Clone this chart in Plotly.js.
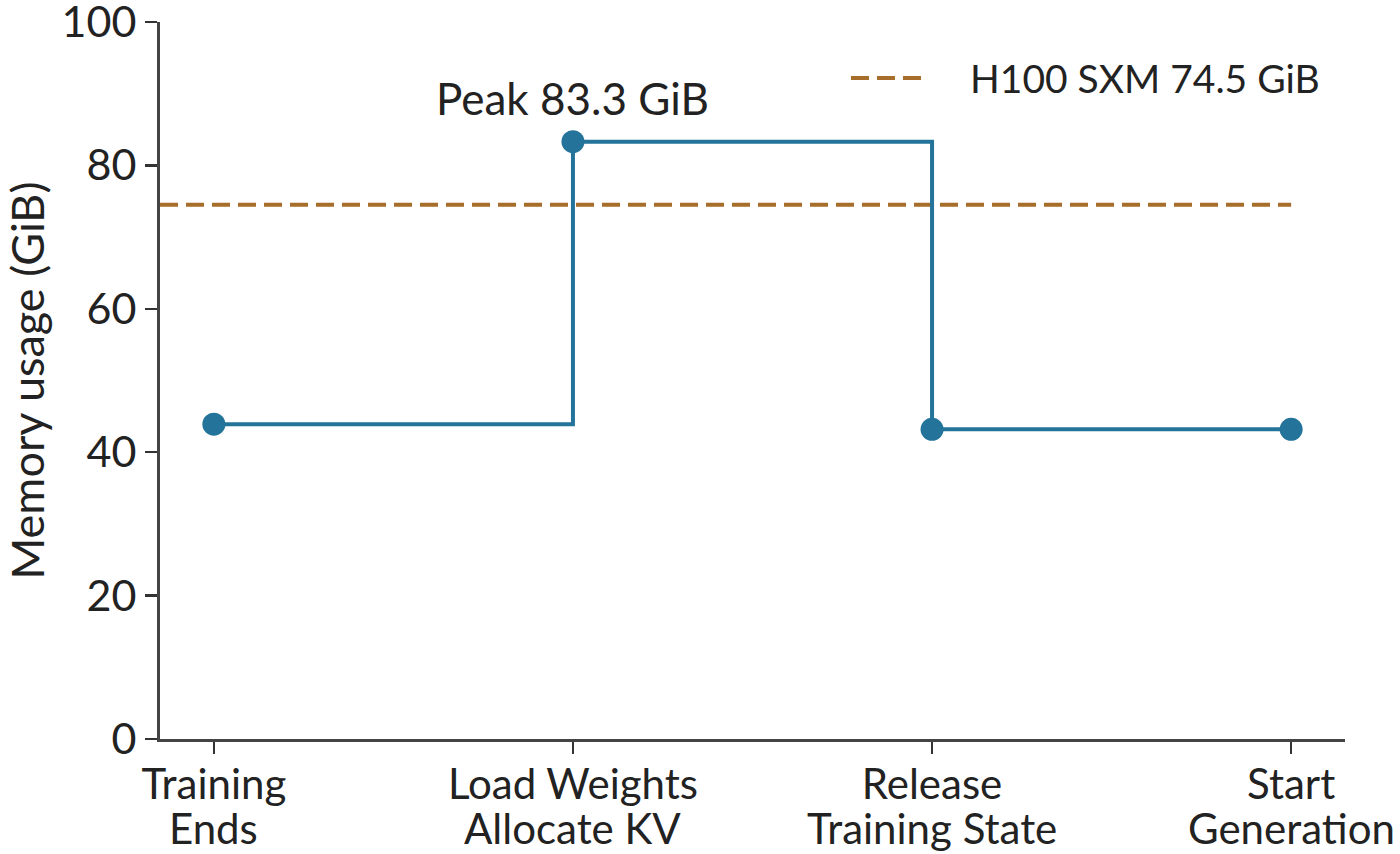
<!DOCTYPE html>
<html>
<head>
<meta charset="utf-8">
<script src="https://cdn.plot.ly/plotly-3.0.1.min.js"></script>
<style>
  html, body { margin: 0; padding: 0; background: #fff; }
  #chart { width: 1400px; height: 854px; }
</style>
</head>
<body>
<div id="chart"></div>
<script>
// stages of the training -> generation handoff (label split over two lines)
const stageLine1 = ['Training', 'Load Weights', 'Release', 'Start'];
const stageLine2 = ['Ends', 'Allocate KV', 'Training State', 'Generation'];
const memoryGiB = [43.9, 83.3, 43.2, 43.2];
const h100Limit = 74.5;
const limitName = 'H100 SXM 74.5 GiB';
const peakLabel = 'Peak 83.3 GiB';
const yTicks = [0, 20, 40, 60, 80, 100];

const FONT = 'Lato, "Noto Sans", sans-serif';
const TXT = '#222';
const lineCol = '#24739a';
const limitCol = '#a66e2a';
const xRange = [-0.15, 3.15];
const stageIdx = stageLine1.map((_, i) => i);

const stepTrace = {
    x: stageIdx, y: memoryGiB,
    type: 'scatter', mode: 'lines+markers',
    line: { shape: 'hv', color: lineCol, width: 4 },
    marker: { size: 23, color: lineCol },
    showlegend: false, hoverinfo: 'y'
};

// threshold runs from the left spine to the last stage
const limitTrace = {
    x: [xRange[0], stageIdx[stageIdx.length - 1]], y: [h100Limit, h100Limit],
    type: 'scatter', mode: 'lines',
    line: { color: limitCol, width: 4, dash: '18px,8px' },
    showlegend: false, hoverinfo: 'skip'
};

const peakIdx = memoryGiB.indexOf(Math.max(...memoryGiB));

const annotations = [{
    x: peakIdx, y: memoryGiB[peakIdx], xref: 'x', yref: 'y',
    text: peakLabel, showarrow: false, yshift: 44,
    font: { family: FONT, size: 44, color: TXT }
}];
// second line of each stage label (kept tight like the source)
stageIdx.forEach(i => annotations.push({
    x: i, y: 0, xref: 'x', yref: 'paper', yanchor: 'middle',
    text: stageLine2[i], showarrow: false, yshift: -89,
    font: { family: FONT, size: 42, color: TXT }
}));
// hand-made legend entry
annotations.push({
    x: 0.6819, y: 0.922, xref: 'paper', yref: 'paper',
    xanchor: 'left', yanchor: 'middle',
    text: limitName, showarrow: false,
    font: { family: FONT, size: 39, color: TXT }
});

const layout = {
    width: 1400, height: 854,
    paper_bgcolor: '#fff', plot_bgcolor: '#fff',
    font: { family: FONT, size: 43, color: TXT },
    margin: { l: 160, r: 55, t: 22, b: 115 },
    showlegend: false,
    xaxis: {
        range: xRange, tickvals: stageIdx, ticktext: stageLine1,
        showgrid: false, zeroline: false,
        showline: true, linecolor: '#444', linewidth: 3,
        ticks: 'outside', ticklen: 12, tickwidth: 2.5, tickcolor: '#333',
        tickfont: { family: FONT, size: 42, color: TXT },
        ticklabelstandoff: -5,
        ticklabeloverflow: 'allow'
    },
    yaxis: {
        range: [0, 100], tickvals: yTicks,
        showgrid: false, zeroline: false,
        showline: true, linecolor: '#444', linewidth: 3,
        ticks: 'outside', ticklen: 12, tickwidth: 2.5, tickcolor: '#333',
        tickfont: { family: FONT, size: 43, color: TXT },
        ticklabeloverflow: 'allow',
        title: { text: 'Memory usage (GiB)', font: { family: FONT, size: 45, color: TXT }, standoff: 18 }
    },
    shapes: [{
        type: 'line', xref: 'paper', yref: 'paper',
        x0: 0.5831, x1: 0.6422, y0: 0.922, y1: 0.922,
        line: { color: limitCol, width: 4, dash: '18px,8px' }
    }],
    annotations: annotations
};

Plotly.newPlot('chart', [limitTrace, stepTrace], layout, { staticPlot: true });
</script>
</body>
</html>
